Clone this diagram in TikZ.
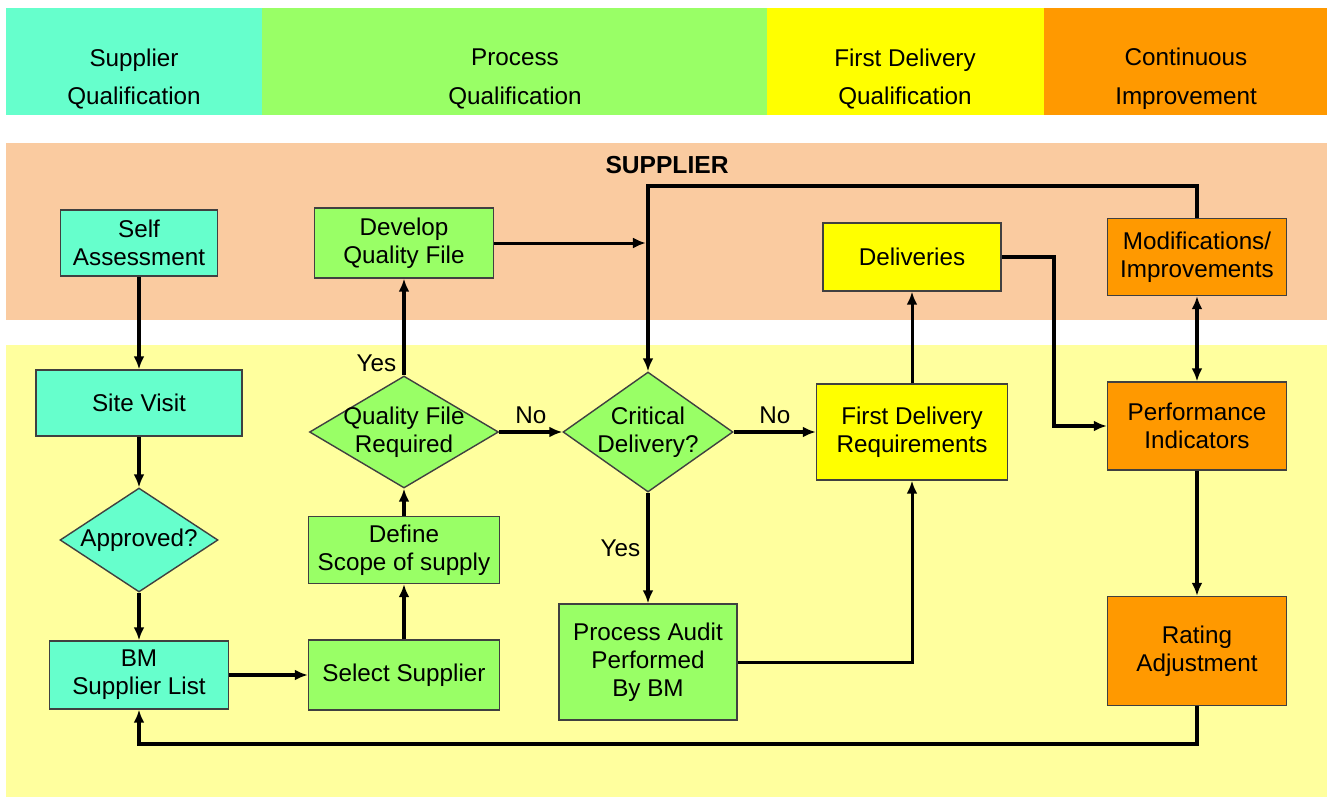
\documentclass[tikz,border=0pt]{standalone}
\usepackage{fontspec}
\setmainfont{Liberation Sans}
\usetikzlibrary{arrows.meta}
\usetikzlibrary{shapes.geometric}
\definecolor{qcyan}{RGB}{102,255,204}
\definecolor{qgreen}{RGB}{153,255,102}
\definecolor{qyellow}{RGB}{255,255,0}
\definecolor{qorange}{RGB}{255,153,0}
\definecolor{qpeach}{RGB}{250,203,160}
\definecolor{qpale}{RGB}{255,255,158}
\begin{document}
\begin{tikzpicture}[x=0.02cm,y=-0.02cm,
		txt/.style={font=\fontsize{13.8}{16}\selectfont},
		box/.style={txt, draw=black!75, line width=0.8pt, inner sep=0pt, align=center},
		dia/.style={diamond, draw=black!75, line width=0.8pt, inner sep=0pt},
		flow/.style={-{Latex[length=2.6mm,width=2.2mm]}, line width=2.3pt},
		thinflow/.style={flow, line width=1.7pt}]
		\useasboundingbox (0,0) rectangle (1332,799);
		% phase bands
		\fill[qcyan] (6,8) rectangle (262,115);
		\fill[qgreen] (262,8) rectangle (767,115);
		\fill[qyellow] (767,8) rectangle (1044,115);
		\fill[qorange] (1044,8) rectangle (1327,115);
		\node[txt, align=center, font=\fontsize{13.8}{22}\selectfont] (hsq) at (134,79) {Supplier\\Qualification};
		\node[txt, align=center, font=\fontsize{13.8}{22}\selectfont] (hpq) at (515,79) {Process\\Qualification};
		\node[txt, align=center, font=\fontsize{13.8}{22}\selectfont] (hfq) at (905,79) {First Delivery\\Qualification};
		\node[txt, align=center, font=\fontsize{13.8}{22}\selectfont] (hci) at (1186,79) {Continuous\\Improvement};
		% supplier / BM areas
		\fill[qpeach] (6,143) rectangle (1327,320);
		\fill[qpale] (6,345) rectangle (1327,797);
		\node[font=\fontsize{14}{16}\selectfont\bfseries] (sup) at (667,165) {SUPPLIER};
		
		% supplier qualification
		\node[box, fill=qcyan, minimum width=3.14cm, minimum height=1.32cm] (self) at (139,243) {Self\\Assessment};
		\node[box, fill=qcyan, minimum width=4.12cm, minimum height=1.32cm] (site) at (139,403) {Site Visit};
		\node[dia, fill=qcyan, minimum width=3.16cm, minimum height=2.08cm,
		label={[txt]center:Approved?}] (appr) at (139,540) {};
		\node[box, fill=qcyan, minimum width=3.58cm, minimum height=1.36cm] (bml) at (139,675) {BM\\Supplier List};
		
		% process qualification
		\node[box, fill=qgreen, minimum width=3.82cm, minimum height=1.40cm] (sel) at (404,675) {Select Supplier};
		\node[box, fill=qgreen, minimum width=3.82cm, minimum height=1.34cm] (scope) at (404,550) {Define\\Scope of supply};
		\node[dia, fill=qgreen, minimum width=3.78cm, minimum height=2.24cm,
		label={[txt, align=center]center:Quality File\\Required}] (qfr) at (404,432) {};
		\node[box, fill=qgreen, minimum width=3.58cm, minimum height=1.40cm] (dev) at (404,243) {Develop\\Quality File};
		\node[dia, fill=qgreen, minimum width=3.40cm, minimum height=2.40cm,
		label={[txt, align=center]center:Critical\\Delivery?}] (crit) at (648,432) {};
		\node[box, fill=qgreen, minimum width=3.56cm, minimum height=2.32cm] (audit) at (648,662) {Process Audit\\Performed\\By BM};
		
		% first delivery
		\node[box, fill=qyellow, minimum width=3.82cm, minimum height=1.92cm] (fdr) at (912,432) {First Delivery\\Requirements};
		\node[box, fill=qyellow, minimum width=3.56cm, minimum height=1.36cm] (deliv) at (912,257) {Deliveries};
		
		% continuous improvement
		\node[box, fill=qorange, minimum width=3.58cm, minimum height=1.54cm] (mod) at (1197,257) {Modifications/\\Improvements};
		\node[box, fill=qorange, minimum width=3.58cm, minimum height=1.76cm] (perf) at (1197,426) {Performance\\Indicators};
		\node[box, fill=qorange, minimum width=3.58cm, minimum height=2.18cm] (rate) at (1197,651) {Rating\\Adjustment};
		
		% connectors
		\draw[flow] (self) -- (site);
		\draw[flow] (site) -- (appr);
		\draw[flow] (appr) -- (bml);
		\draw[flow] (bml) -- (sel);
		\draw[flow] (sel) -- (scope);
		\draw[flow] (scope) -- (qfr);
		\draw[flow] (qfr.north) -- node[txt, pos=0.12, left] {Yes} (dev.south);
		\draw[flow] (qfr.east) -- node[txt, above] {No} (crit.west);
		\draw[thinflow, shorten >=1.2pt] (dev.east) -- (dev.east -| crit.north);
		\draw[flow] (mod.north) -- ++(0,-32) -| (crit.north);
		\draw[flow] (crit.east) -- node[txt, above] {No} (fdr.west);
		\draw[flow] (crit.south) -- node[txt, left] {Yes} (audit.north);
		\draw[thinflow] (audit.east) -| (fdr.south);
		\draw[thinflow] (fdr.north) -- (deliv.south);
		\draw[flow] (deliv.east) -- ++(52,0) |- (perf.west);
		\draw[{Latex[length=2.6mm,width=2.2mm]}-{Latex[length=2.6mm,width=2.2mm]}, line width=2.3pt] (mod) -- (perf);
		\draw[flow] (perf) -- (rate);
		\draw[flow] (rate.south) -- ++(0,38) -| (bml.south);
\end{tikzpicture}
\end{document}
